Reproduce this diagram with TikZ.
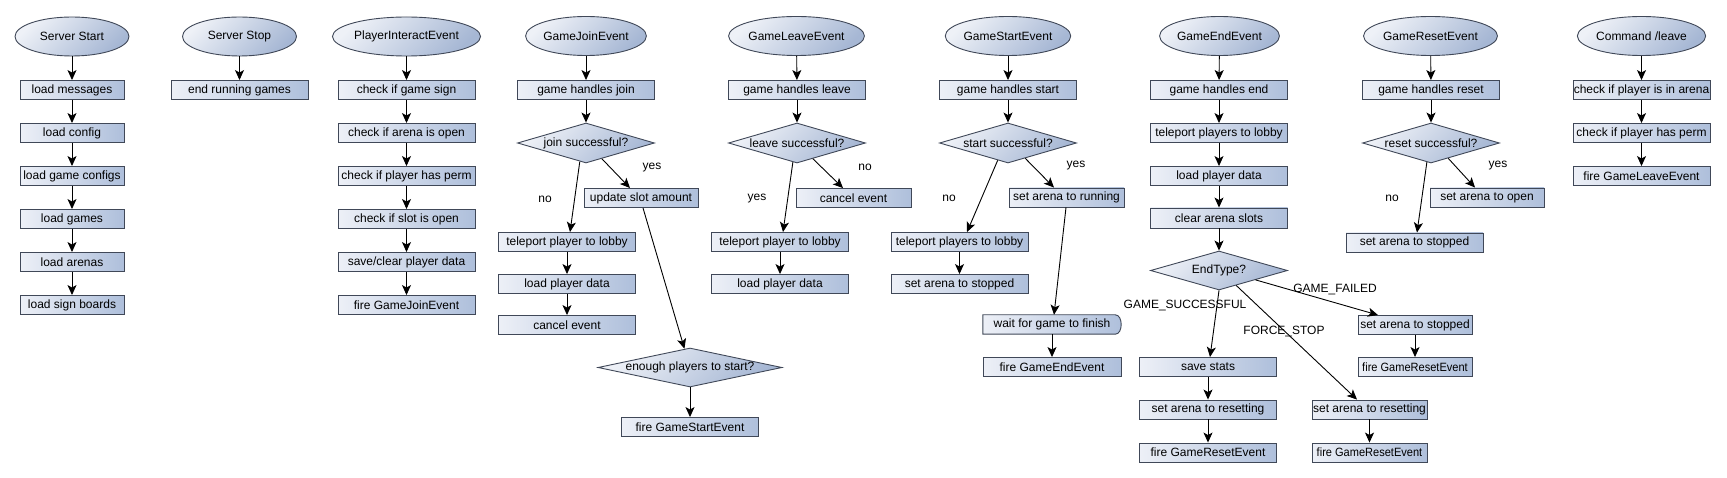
\documentclass[tikz,border=0pt]{standalone}
\usepackage{fontspec}
\setmainfont{Liberation Sans}
\usetikzlibrary{shapes.geometric,arrows.meta,calc,backgrounds}
\definecolor{bord}{HTML}{404858}
\definecolor{bl}{HTML}{EDF0F7}
\definecolor{br}{HTML}{AEBFDB}
\definecolor{el}{HTML}{EEF1F7}
\definecolor{er}{HTML}{A6B7D4}
\tikzset{
  box/.style={draw=bord, line width=0.9pt, left color=bl, right color=br, minimum height=19pt, minimum width=137pt, inner sep=0pt},
  waitbox/.style={minimum height=19pt, minimum width=138pt, inner sep=0pt},
  ev/.style={ellipse, draw=bord, line width=0.9pt, top color=el, bottom color=er, shading angle=45, minimum width=114pt, minimum height=39pt, inner sep=0pt},
  dec/.style={diamond, draw=bord, line width=0.9pt, top color=el, bottom color=er, shading angle=45, minimum width=137pt, minimum height=40pt, inner sep=0pt},
  arr/.style={-{Stealth[length=10pt,width=9pt,inset=2.5pt]}, line width=0.9pt, black},
  lab/.style={inner sep=0pt},
}
\begin{document}
\begin{tikzpicture}[x=1pt,y=-1pt,font=\fontsize{12}{14}\selectfont]
\useasboundingbox (0,0) rectangle (1727,478);
\begin{scope}[on background layer]
\fill[white] (0,0) rectangle (1727,478);
\end{scope}

% Server Start
\node[ev] (s0) at (72,36.5) {Server Start};
\node[box, minimum width=104pt] (s1) at (72,90) {load messages};
\node[box, minimum width=104pt] (s2) at (72,133) {load config};
\node[box, minimum width=104pt] (s3) at (72,176) {load game configs};
\node[box, minimum width=104pt] (s4) at (72,219) {load games};
\node[box, minimum width=104pt] (s5) at (72,262) {load arenas};
\node[box, minimum width=104pt] (s6) at (72,305) {load sign boards};
\draw[arr] (s0) -- (s1);
\draw[arr] (s1) -- (s2);
\draw[arr] (s2) -- (s3);
\draw[arr] (s3) -- (s4);
\draw[arr] (s4) -- (s5);
\draw[arr] (s5) -- (s6);

% Server Stop
\node[ev] (t0) at (239.5,36.5) {Server Stop};
\node[box] (t1) at (239.5,90) {end running games};
\draw[arr] (t0) -- (t1);

% PlayerInteractEvent
\node[ev] (p0) at (406.5,36.5) {PlayerInteractEvent};
\node[box] (p1) at (406.5,90) {check if game sign};
\node[box] (p2) at (406.5,133) {check if arena is open};
\node[box] (p3) at (406.5,176) {check if player has perm};
\node[box] (p4) at (406.5,219) {check if slot is open};
\node[box] (p5) at (406.5,262) {save/clear player data};
\node[box] (p6) at (406.5,305) {fire GameJoinEvent};
\draw[arr] (p0) -- (p1);
\draw[arr] (p1) -- (p2);
\draw[arr] (p2) -- (p3);
\draw[arr] (p3) -- (p4);
\draw[arr] (p4) -- (p5);
\draw[arr] (p5) -- (p6);

% GameJoinEvent
\node[ev] (j0) at (586,36) {GameJoinEvent};
\node[box] (j1) at (586,90) {game handles join};
\node[dec, label={[lab]center:join successful?}] (j2) at (586,143) {};
\node[box, minimum width=114pt] (j3) at (641,198) {update slot amount};
\node[box] (j4) at (567,242) {teleport player to lobby};
\node[box] (j5) at (567,284) {load player data};
\node[box] (j6) at (567,325) {cancel event};
\node[dec, minimum width=184pt, minimum height=39pt, label={[lab]center:enough players to start?}] (j7) at (690,367.5) {};
\node[box] (j8) at (690,427) {fire GameStartEvent};
\node[lab] (jy) at (652,168) {yes};
\node[lab] (jn) at (545,199) {no};
\draw[arr] (j0) -- (j1);
\draw[arr] (j1) -- (j2);
\draw[arr] ($(j2.south)!0.23!(j2.east)$) -- ([xshift=-11pt]j3.north);
\draw[arr] ($(j2.south)!0.09!(j2.west)$) -- ([xshift=3pt]j4.north);
\draw[arr] (j4) -- (j5);
\draw[arr] (j5) -- (j6);
\draw[arr] ([xshift=2pt]j3.south) -- ($(j7.north)!0.06!(j7.west)$);
\draw[arr] (j7) -- (j8);

% GameLeaveEvent
\node[ev] (l0) at (796.5,36) {GameLeaveEvent};
\node[box] (l1) at (797,90) {game handles leave};
\node[dec, label={[lab]center:leave successful?}] (l2) at (797,143) {};
\node[box, minimum width=115pt] (l3) at (853.5,198) {cancel event};
\node[box] (l4) at (780,242) {teleport player to lobby};
\node[box] (l5) at (780,284) {load player data};
\node[lab] (ln) at (865,167) {no};
\node[lab] (ly) at (757,199) {yes};
\draw[arr] (l0) -- (l1);
\draw[arr] (l1) -- (l2);
\draw[arr] ($(l2.south)!0.23!(l2.east)$) -- ([xshift=-10.5pt]l3.north);
\draw[arr] ($(l2.south)!0.06!(l2.west)$) -- ([xshift=3pt]l4.north);
\draw[arr] (l4) -- (l5);

% GameStartEvent
\node[ev] (g0) at (1008,36) {GameStartEvent};
\node[box] (g1) at (1008,90) {game handles start};
\node[dec, label={[lab]center:start successful?}] (g2) at (1008,143) {};
\node[box, minimum width=115pt] (g3) at (1066.5,197.5) {set arena to running};
\node[box] (g4) at (959.5,242) {teleport players to lobby};
\node[box] (g5) at (959.5,284) {set arena to stopped};
\node[waitbox] (g6) at (1052,324.5) {wait for game to finish};
\begin{scope}[on background layer]
\path[draw=bord, line width=0.9pt, left color=bl, right color=br]
  (g6.south west) -- (g6.north west) -- ([xshift=-6pt]g6.north east)
  .. controls ([xshift=2pt]g6.north east) and ([xshift=2pt]g6.south east) .. ([xshift=-6pt]g6.south east)
  -- cycle;
\end{scope}
\node[box, minimum width=138pt] (g7) at (1052,367) {fire GameEndEvent};
\node[lab] (gy) at (1076,166) {yes};
\node[lab] (gn) at (949,198) {no};
\draw[arr] (g0) -- (g1);
\draw[arr] (g1) -- (g2);
\draw[arr] ($(g2.south)!0.25!(g2.east)$) -- ([xshift=-12.5pt]g3.north);
\draw[arr] ($(g2.south)!0.15!(g2.west)$) -- ([xshift=7.5pt]g4.north);
\draw[arr] (g4) -- (g5);
\draw[arr] ([xshift=-0.5pt]g3.south) -- ([xshift=2pt]g6.north);
\draw[arr] (g6) -- (g7);

% GameEndEvent
\node[ev] (e0) at (1219.5,36) {GameEndEvent};
\node[box] (e1) at (1219,90) {game handles end};
\node[box] (e2) at (1219,133) {teleport players to lobby};
\node[box] (e3) at (1219,176) {load player data};
\node[box, minimum height=20pt] (e4) at (1219,218) {clear arena slots};
\node[dec, minimum height=39pt, label={[lab]center:EndType?}] (e5) at (1219,270.5) {};
\node[box] (e6) at (1208,367) {save stats};
\node[box] (e7) at (1208,409.5) {set arena to resetting};
\node[box] (e8) at (1208,452.5) {fire GameResetEvent};
\node[box, minimum width=114pt] (e9) at (1415,325) {set arena to stopped};
\node[box, minimum width=114pt] (e10) at (1415,367) {\scalebox{0.92}[1]{fire GameResetEvent}};
\node[box, minimum width=115pt] (e11) at (1369.5,409.5) {set arena to resetting};
\node[box, minimum width=115pt] (e12) at (1369.5,452.5) {\scalebox{0.92}[1]{fire GameResetEvent}};
\node[lab] (es) at (1185,306) {GAME\_SUCCESSFUL};
\node[lab] (efs) at (1284,332) {FORCE\_STOP};
\node[lab] (efa) at (1335,290) {GAME\_FAILED};
\draw[arr] (e0) -- (e1);
\draw[arr] (e1) -- (e2);
\draw[arr] (e2) -- (e3);
\draw[arr] (e3) -- (e4);
\draw[arr] (e4) -- (e5);
\draw[arr] (e5.south) -- ([xshift=2pt]e6.north);
\draw[arr] ($(e5.south)!0.25!(e5.east)$) -- ([xshift=-12.5pt]e11.north);
\draw[arr] ($(e5.south)!0.53!(e5.east)$) -- ([xshift=-37pt]e9.north);
\draw[arr] (e6) -- (e7);
\draw[arr] (e7) -- (e8);
\draw[arr] (e9) -- (e10);
\draw[arr] (e11) -- (e12);

% GameResetEvent
\node[ev] (r0) at (1430.5,36) {GameResetEvent};
\node[box] (r1) at (1431,90) {game handles reset};
\node[dec, label={[lab]center:reset successful?}] (r2) at (1431,143) {};
\node[box, minimum width=114pt] (r3) at (1487,197.5) {set arena to open};
\node[box] (r4) at (1414.5,242.5) {set arena to stopped};
\node[lab] (ry) at (1498,166) {yes};
\node[lab] (rn) at (1392,198) {no};
\draw[arr] (r0) -- (r1);
\draw[arr] (r1) -- (r2);
\draw[arr] ($(r2.south)!0.25!(r2.east)$) -- ([xshift=-12pt]r3.north);
\draw[arr] ($(r2.south)!0.06!(r2.west)$) -- ([xshift=2.5pt]r4.north);

% Command /leave
\node[ev] (c0) at (1641.5,36) {Command /leave};
\node[box] (c1) at (1641.5,90) {check if player is in arena};
\node[box] (c2) at (1641.5,133) {check if player has perm};
\node[box] (c3) at (1641.5,176) {fire GameLeaveEvent};
\draw[arr] (c0) -- (c1);
\draw[arr] (c1) -- (c2);
\draw[arr] (c2) -- (c3);
\end{tikzpicture}
\end{document}
